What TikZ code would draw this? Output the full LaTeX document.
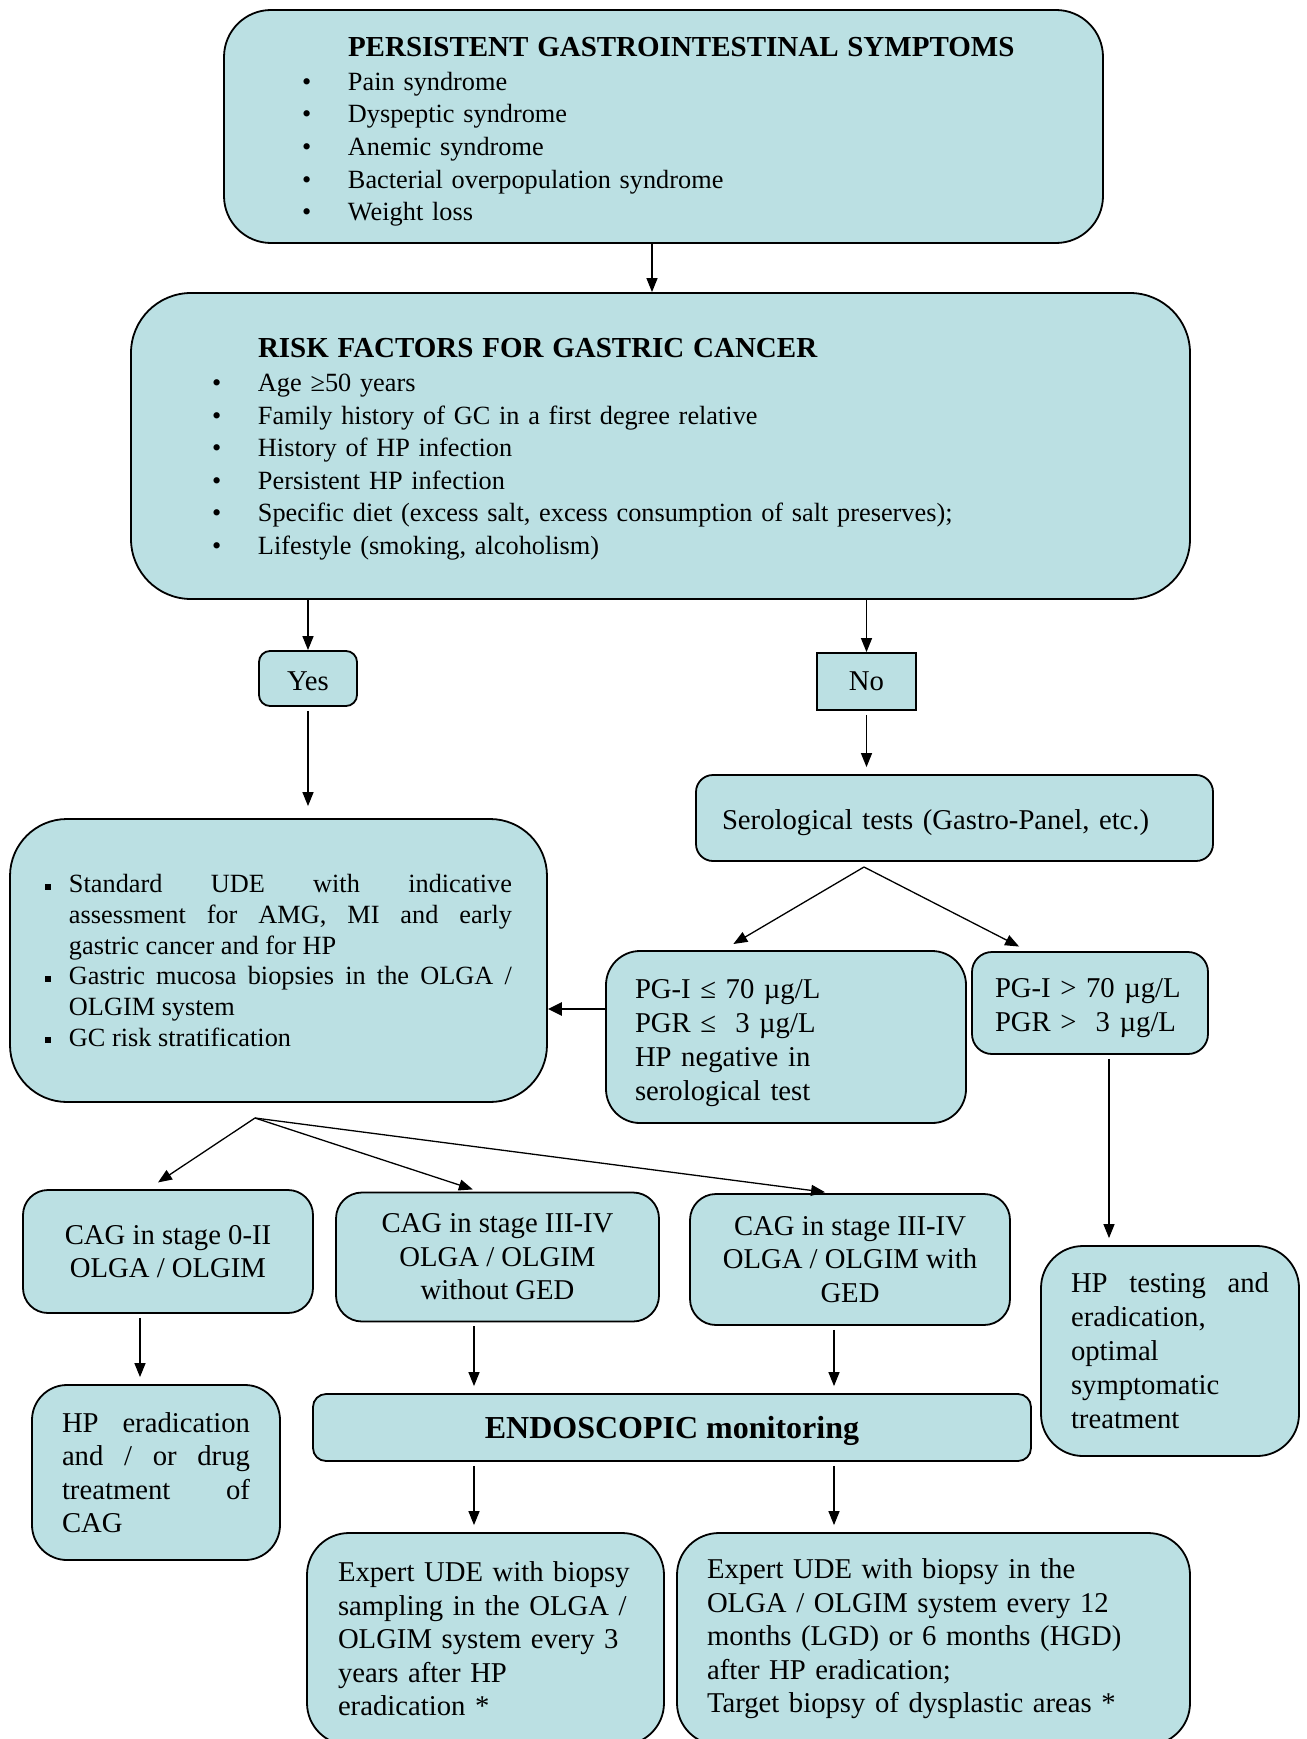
\documentclass[tikz,border=0pt]{standalone}
\usepackage{fontspec}
\setmainfont{Liberation Serif}
\usetikzlibrary{arrows.meta}

\definecolor{boxfill}{RGB}{187,224,227}
\newcommand{\blt}{\makebox[46pt][l]{\textbullet}}
\newcommand{\sqi}{\hangindent=24pt\hangafter=1\noindent\makebox[24pt][l]{\rule[3pt]{6pt}{6pt}}}
\newcommand{\headfont}{\fontsize{29}{34}\selectfont\bfseries}
\newcommand{\lift}[1]{\rule{0pt}{#1}}

\begin{document}
\begin{tikzpicture}[x=1pt, y=-1pt,
    font=\fontsize{28.7}{33.5}\selectfont,
    listfont/.style={font=\fontsize{26.3}{32.6}\selectfont},
    box/.style={draw, line width=1.8pt, fill=boxfill, rounded corners=#1, inner sep=0pt},
    box/.default=20pt,
    arr/.style={-{Triangle[length=14pt,width=11pt]}, line width=1.3pt},
    arrthick/.style={-{Triangle[length=14pt,width=13pt]}, line width=2.6pt},
    gap/.style={shorten <=4pt, shorten >=7pt}]
    \useasboundingbox (0,0) rectangle (1306,1739);
    \clip (0,0) rectangle (1306,1739);
    \fill[white] (0,0) rectangle (1306,1739);

        \node[box=47pt, listfont, minimum width=879pt, minimum height=233pt, text width=723pt, align=left] (Symptoms) at (663.5,126.5) {
            \lift{30pt}\hspace*{46pt}{\headfont PERSISTENT GASTROINTESTINAL SYMPTOMS}\\[1pt]
            \blt Pain syndrome\\
            \blt Dyspeptic syndrome\\
            \blt Anemic syndrome\\
            \blt Bacterial overpopulation syndrome\\
            \blt Weight loss
        };
        \node[box=60pt, listfont, minimum width=1059pt, minimum height=306pt, text width=897pt, align=left] (Risk) at (660.5,446) {
            \lift{26pt}\hspace*{46pt}{\headfont RISK FACTORS FOR GASTRIC CANCER}\\[1pt]
            \blt Age ≥50 years\\
            \blt Family history of GC in a first degree relative\\
            \blt History of HP infection\\
            \blt Persistent HP infection\\
            \blt Specific diet (excess salt, excess consumption of salt preserves);\\
            \blt Lifestyle (smoking, alcoholism)
        };
        \node[box=11pt, minimum width=98pt, minimum height=55pt] (Yes) at (308,678.5) {
            \lift{25pt}Yes
        };
        \node[box=0pt, minimum width=99pt, minimum height=57pt] (No) at (866.5,681.5) {
            No
        };
        \node[box=17pt, minimum width=517pt, minimum height=86pt, text width=465pt, align=left] (Sero) at (954.5,818) {
            \lift{30pt}Serological tests (Gastro-Panel, etc.)
        };
        \node[box=57pt, minimum width=537pt, minimum height=283pt, text width=467pt, align=justify, font=\fontsize{26.3}{30.7}\selectfont] (UDE) at (278.5,960.5) {
            \sqi Standard UDE with indicative\linebreak assessment for AMG, MI and early\linebreak gastric cancer and for HP\par
            \sqi Gastric mucosa biopsies in the OLGA /\linebreak OLGIM system\par
            \sqi GC risk stratification
        };
        \node[box=34pt, minimum width=360pt, minimum height=172pt, text width=302pt, align=left, font=\fontsize{28.7}{34}\selectfont] (PGlow) at (786,1037) {
            \lift{31pt}PG-I ≤ 70 µg/L\\
            PGR ≤\ \ 3 µg/L\\
            HP negative in\\
            serological test
        };
        \node[box=20pt, minimum width=236pt, minimum height=102pt, text width=190pt, align=left, font=\fontsize{28.7}{34}\selectfont] (PGhigh) at (1090,1003) {
            \lift{29pt}\mbox{PG-I > 70 µg/L}\\
            \mbox{PGR >\ \ 3 µg/L}
        };
        \node[box=42pt, minimum width=258pt, minimum height=210pt, text width=198pt, align=justify, font=\fontsize{28.7}{34}\selectfont] (HPtest) at (1170,1351) {
            HP testing and\linebreak eradication,\par
            optimal\par
            symptomatic\par
            treatment
        };
        \node[box=25pt, minimum width=290pt, minimum height=123pt, align=center] (CAGlow) at (168,1251.5) {
            CAG in stage 0-II\\
            OLGA / OLGIM
        };
        \node[box=26pt, minimum width=323pt, minimum height=129pt, align=center] (CAGmid) at (497.5,1257) {
            CAG in stage III-IV\\
            OLGA / OLGIM\\
            without GED
        };
        \node[box=26pt, minimum width=320pt, minimum height=131pt, align=center] (CAGhigh) at (850,1259.5) {
            CAG in stage III-IV\\
            OLGA / OLGIM with\\
            GED
        };
        \node[box=35pt, minimum width=248pt, minimum height=175pt, text width=188pt, align=justify] (HPerad) at (156,1472.5) {
            HP eradication\linebreak and / or drug\linebreak treatment of\linebreak CAG
        };
        \node[box=13pt, minimum width=718pt, minimum height=67pt, font=\fontsize{32}{36}\selectfont\bfseries] (Endo) at (672,1427.5) {
            \lift{30pt}ENDOSCOPIC monitoring
        };
        \node[box=42pt, minimum width=357pt, minimum height=212pt, text width=295pt, align=left] (ExpertLGD) at (485.5,1639) {
            Expert UDE with biopsy\\
            sampling in the OLGA /\\
            OLGIM system every 3\\
            years after HP\\
            eradication *
        };
        \node[box=42pt, minimum width=513pt, minimum height=212pt, text width=453pt, align=left] (ExpertHGD) at (933.5,1639) {
            Expert UDE with biopsy in the\\
            OLGA / OLGIM system every 12\\
            months (LGD) or 6 months (HGD)\\
            after HP eradication;\\
            Target biopsy of dysplastic areas *
        };

        % lanes for the vertical arrows
        \coordinate (MainLane) at (652,0);
        \coordinate (HPLane) at (1109,0);
        \coordinate (EradLane) at (140,0);
        \coordinate (MidLane) at (474,0);
        \coordinate (HighLane) at (834,0);
        \coordinate (SeroFork) at (864,867);
        \coordinate (UDEfork) at (255,1118);
        \coordinate (PGout) at ([yshift=28pt]PGlow.west);

        \draw[arr] (Symptoms.south -| MainLane) to (Risk.north -| MainLane);
        \draw[arr] (Risk.south -| Yes.north) to (Yes.north);
        \draw[arr] (Risk.south -| No.north) to (No.north);
        \draw[arr, gap, shorten >=12pt] (Yes.south) to (UDE.north -| Yes.south);
        \draw[arr, gap] (No.south) to (Sero.north -| No.south);
        \draw[arr, shorten >=12pt] (SeroFork) to ([xshift=-63pt]PGlow.north);
        \draw[arr, shorten >=10pt] (SeroFork) to ([xshift=-62pt]PGhigh.north);
        \draw[arrthick] (PGout) to (PGout -| UDE.east);
        \draw[arr, gap] (PGhigh.south -| HPLane) to (HPtest.north -| HPLane);
        \draw[arr, shorten >=12pt] (UDEfork) to ([xshift=-20pt]CAGlow.north);
        \draw[arr, shorten >=7pt] (UDEfork) to ([xshift=-18pt]CAGmid.north);
        \draw[arr, shorten >=7pt] (UDEfork) to ([xshift=-18pt]CAGhigh.north);
        \draw[arr, gap] (CAGlow.south -| EradLane) to (HPerad.north -| EradLane);
        \draw[arr, gap] (CAGmid.south -| MidLane) to (Endo.north -| MidLane);
        \draw[arr, gap] (CAGhigh.south -| HighLane) to (Endo.north -| HighLane);
        \draw[arr, gap] (Endo.south -| MidLane) to (ExpertLGD.north -| MidLane);
        \draw[arr, gap] (Endo.south -| HighLane) to (ExpertHGD.north -| HighLane);
    \end{tikzpicture}
\end{document}
